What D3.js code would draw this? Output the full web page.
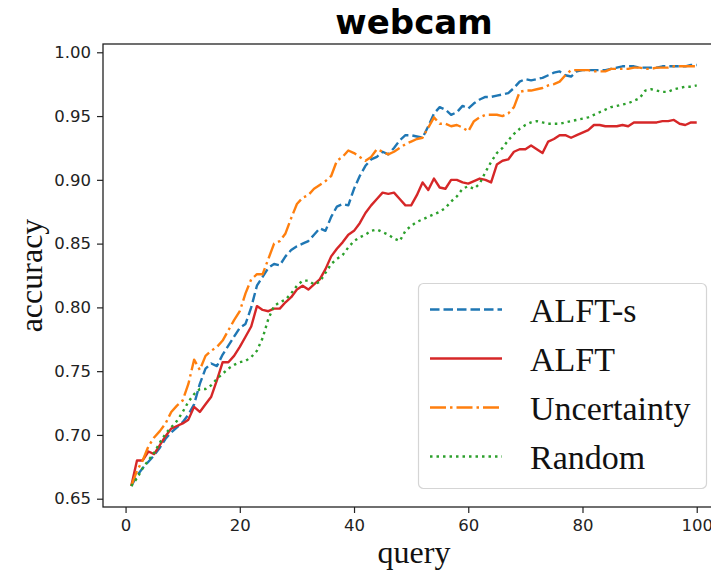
<!DOCTYPE html>
<html>
<head>
<meta charset="utf-8">
<script src="https://cdn.jsdelivr.net/npm/d3@7"></script>
<style>
  body { margin: 0; background: #fff; }
</style>
</head>
<body>
<div id="chart"></div>
<script>
//Data
var alftS = [.660,.668,.674,.679,.684,.690,.697,.702,.706,.710,
  .716,.724,.740,.752,.756,.754,.763,.770,.777,.784,
  .787,.800,.817,.824,.831,.834,.833,.840,.845,.848,
  .850,.852,.857,.862,.860,.871,.879,.881,.880,.893,
  .903,.911,.916,.918,.922,.920,.925,.931,.935,.935,
  .934,.933,.942,.952,.957,.955,.951,.953,.958,.956,
  .960,.963,.965,.965,.966,.967,.968,.972,.977,.979,
  .978,.979,.980,.982,.984,.985,.982,.981,.985,.986,
  .986,.986,.986,.986,.987,.988,.989,.989,.989,.988,
  .988,.988,.988,.989,.989,.989,.989,.989,.990,.990];
var alft = [.660,.680,.680,.687,.685,.692,.699,.705,.707,.709,
  .712,.722,.718,.724,.730,.743,.757,.757,.762,.769,
  .777,.785,.801,.798,.797,.799,.799,.804,.808,.814,
  .817,.814,.818,.822,.830,.840,.846,.851,.857,.860,
  .866,.874,.880,.885,.890,.889,.890,.885,.880,.880,
  .888,.898,.892,.901,.894,.893,.900,.900,.898,.897,
  .899,.901,.900,.898,.912,.915,.916,.922,.924,.924,
  .927,.924,.921,.930,.932,.935,.935,.933,.935,.937,
  .939,.943,.943,.942,.942,.942,.943,.942,.945,.945,
  .945,.945,.945,.946,.946,.947,.944,.943,.945,.945];
var uncertainty = [.660,.672,.680,.691,.698,.703,.709,.718,.723,.727,
  .740,.759,.751,.762,.766,.769,.774,.782,.790,.797,
  .811,.822,.826,.826,.838,.850,.852,.858,.870,.881,
  .886,.888,.893,.896,.899,.903,.915,.918,.923,.921,
  .918,.915,.918,.924,.922,.920,.922,.925,.928,.930,
  .932,.933,.941,.949,.944,.944,.942,.943,.941,.938,
  .946,.949,.951,.951,.951,.950,.952,.957,.969,.970,
  .970,.971,.972,.974,.975,.977,.982,.986,.986,.986,
  .986,.985,.985,.985,.987,.987,.987,.987,.988,.988,
  .987,.987,.988,.988,.988,.989,.989,.989,.989,.989];
var random = [.660,.666,.674,.680,.686,.694,.701,.706,.711,.718,
  .726,.732,.736,.736,.739,.744,.748,.752,.755,.757,
  .758,.761,.766,.776,.791,.801,.804,.806,.811,.817,
  .821,.821,.818,.820,.827,.834,.838,.841,.847,.852,
  .855,.857,.860,.861,.859,.857,.854,.852,.860,.864,
  .867,.869,.871,.873,.875,.878,.883,.887,.893,.895,
  .893,.897,.906,.914,.921,.925,.931,.936,.940,.943,
  .945,.946,.945,.944,.944,.944,.945,.946,.947,.948,
  .949,.951,.953,.955,.957,.958,.959,.960,.962,.964,
  .970,.971,.970,.969,.969,.971,.972,.973,.973,.974];
var queries = d3.range(1, 101);
var seriesNames = ["ALFT-s", "ALFT", "Uncertainty", "Random"];
var xTicks = [0, 20, 40, 60, 80, 100];
var yTicks = [0.65, 0.70, 0.75, 0.80, 0.85, 0.90, 0.95, 1.00];

//Styles
var colors = ["#1f77b4", "#d62728", "#ff7f0e", "#2ca02c"];
var dashes = ["9.5,4", null, "16,4,2.5,4", "2.5,4"];
var series = [alftS, alft, uncertainty, random];

//Margins
var W = 711, H = 572;
var margin = {top: 44, left: 103},
    width = 622,
    height = 463;

var svg = d3.select("#chart")
  .append("svg")
    .attr("width", W)
    .attr("height", H);

var g = svg.append("g")
    .attr("transform", "translate(" + margin.left + "," + margin.top + ")");

//Scales with matplotlib style 5% margins
var xr = d3.extent(queries), xpad = (xr[1] - xr[0]) * 0.05;
var all = [].concat(alftS, alft, uncertainty, random);
var yr = d3.extent(all), ypad = (yr[1] - yr[0]) * 0.05;

var xScale = d3.scaleLinear()
    .domain([xr[0] - xpad, xr[1] + xpad])
    .range([0, width]);
var yScale = d3.scaleLinear()
    .domain([yr[0] - ypad, yr[1] + ypad])
    .range([height, 0]);

//Lines
var line = d3.line()
    .x(function(d, i) { return xScale(queries[i]); })
    .y(function(d) { return yScale(d); });

series.forEach(function(s, k) {
  g.append("path")
    .datum(s)
    .attr("fill", "none")
    .attr("stroke", colors[k])
    .attr("stroke-width", 2.4)
    .attr("stroke-linejoin", "round")
    .attr("stroke-dasharray", dashes[k])
    .attr("d", line);
});

//Axes
var xAxis = g.append("g")
    .attr("transform", "translate(0," + height + ")")
    .call(d3.axisBottom(xScale).tickValues(xTicks).tickSize(6).tickPadding(6).tickFormat(d3.format("d")));
var yAxis = g.append("g")
    .call(d3.axisLeft(yScale).tickValues(yTicks).tickSize(6).tickPadding(6).tickFormat(d3.format(".2f")));

[xAxis, yAxis].forEach(function(a) {
  a.select(".domain").remove();
  a.selectAll(".tick line").attr("stroke", "#222").attr("stroke-width", 1.2);
  a.selectAll(".tick text")
    .attr("fill", "#222")
    .style("font-family", "DejaVu Sans")
    .style("font-size", "16.5px");
});

//Spines (right spine falls outside the window)
g.append("rect")
    .attr("x", 0)
    .attr("y", 0)
    .attr("width", width)
    .attr("height", height)
    .attr("fill", "none")
    .attr("stroke", "#222")
    .attr("stroke-width", 1.3);

//Title
svg.append("text")
    .attr("x", margin.left + width / 2)
    .attr("y", 34)
    .attr("text-anchor", "middle")
    .style("font-family", "DejaVu Sans")
    .style("font-weight", "bold")
    .style("font-size", "34px")
    .text("webcam");

//Axis labels
svg.append("text")
    .attr("x", margin.left + width / 2)
    .attr("y", 563)
    .attr("text-anchor", "middle")
    .style("font-family", "Liberation Serif")
    .style("font-size", "32px")
    .attr("fill", "#111")
    .text("query");

svg.append("text")
    .attr("transform", "translate(42," + (margin.top + height / 2) + ") rotate(-90)")
    .attr("text-anchor", "middle")
    .style("font-family", "Liberation Serif")
    .style("font-size", "32px")
    .attr("fill", "#111")
    .text("accuracy");

//Legend
var legend = svg.append("g");
legend.append("rect")
    .attr("x", 418.5)
    .attr("y", 283.5)
    .attr("width", 288)
    .attr("height", 205)
    .attr("rx", 5)
    .attr("fill", "#fff")
    .attr("fill-opacity", 0.8)
    .attr("stroke", "#d5d5d5")
    .attr("stroke-width", 1.2);

seriesNames.forEach(function(name, k) {
  var cy = 309.5 + k * 49;
  legend.append("line")
    .attr("x1", 430)
    .attr("x2", 502)
    .attr("y1", cy)
    .attr("y2", cy)
    .attr("stroke", colors[k])
    .attr("stroke-width", 2.4)
    .attr("stroke-dasharray", dashes[k]);
  legend.append("text")
    .attr("x", 530)
    .attr("y", cy + 12)
    .style("font-family", "Liberation Serif")
    .style("font-size", "34px")
    .attr("fill", "#111")
    .text(name);
});
</script>
</body>
</html>
